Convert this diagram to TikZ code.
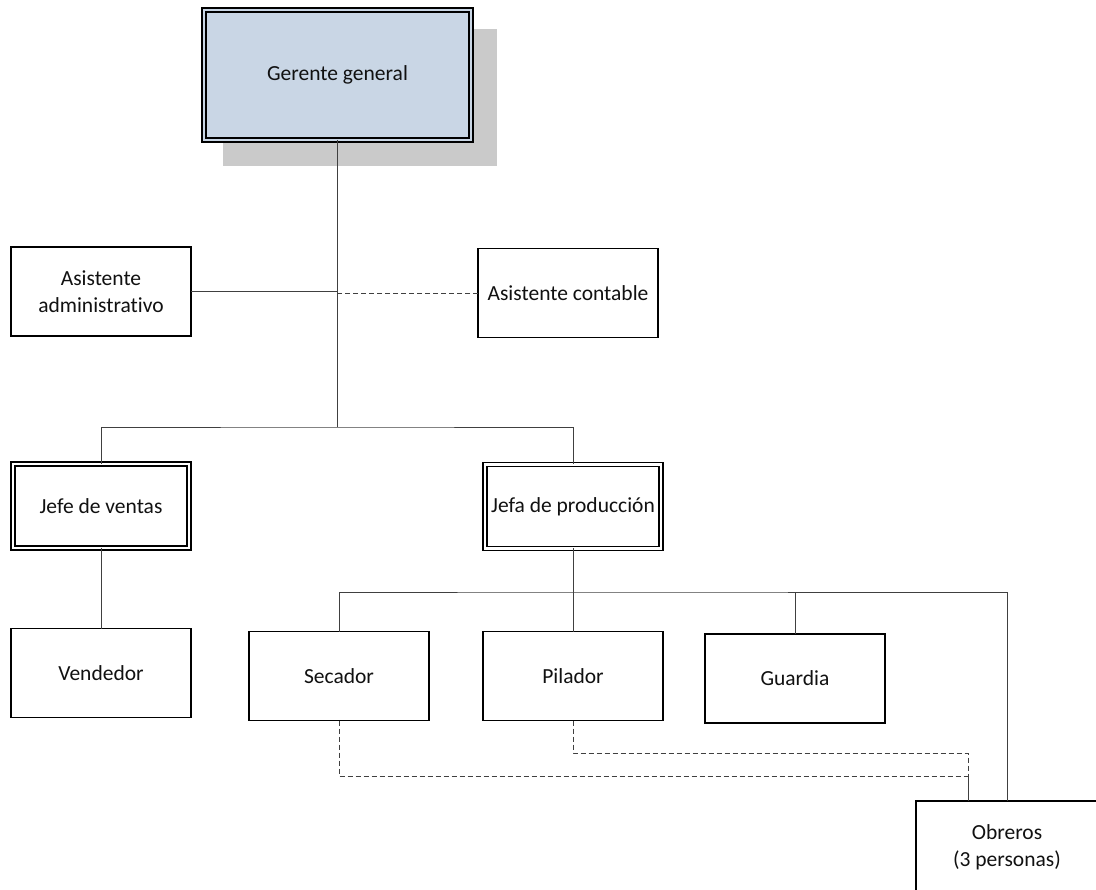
\documentclass[tikz,border=0pt]{standalone}
\usepackage{fontspec}
\setmainfont[Ligatures=NoCommon]{Carlito}
\usepackage{xcolor}
\usepackage{tikz}
\usetikzlibrary{positioning}
\definecolor{gerfill}{HTML}{C9D6E5}
\definecolor{sombra}{HTML}{CACACA}
\definecolor{linea}{HTML}{404040}
\definecolor{texto}{HTML}{111111}
\tikzset{puesto/.style={rectangle,draw=black,line width=1.8pt,fill=white,text=texto,align=center,outer sep=0pt,minimum width=180pt,minimum height=89pt,inner sep=2pt,font=\fontsize{21.5}{27}\selectfont}}
\tikzset{jefe/.style={puesto,line width=1.6pt,double=white,double distance=2.4pt,minimum width=176pt,minimum height=84pt}}
\tikzset{conn/.style={draw=linea,line width=0.9pt}}
\tikzset{punteada/.style={draw=linea,line width=0.9pt,dash pattern=on 5pt off 3pt}}

\begin{document}
\begin{tikzpicture}[x=1pt,y=-1pt]
    \useasboundingbox (0,0) rectangle (1096,890);
    % sombra del gerente
    \fill[sombra] (223,29) rectangle (497,166);
    \node[jefe,fill=gerfill,double=gerfill,minimum width=267pt,minimum height=130pt] (gg) at (337.5,75) {Gerente general};

    \node[puesto] (aa) at (101,291.5) {Asistente\\administrativo};
    \node[puesto] (ac) at (568,293) {Asistente contable};
    \node[jefe] (jv) at (101,506) {Jefe de ventas};
    \node[jefe] (jp) at (573,506.5) {Jefa de producción};
    \node[puesto] (vd) at (101,673) {Vendedor};
    \node[puesto] (se) at (339,676) {Secador};
    \node[puesto] (pi) at (573,676) {Pilador};
    \node[puesto] (gu) at (795,678.5) {Guardia};
    \node[puesto,minimum width=182pt,minimum height=92pt] (ob) at (1007,847) {Obreros\\(3 personas)};

    \coordinate (bus1) at (337.5,427);
    \coordinate (bus2) at (573,592);
    \coordinate (obin) at (968,776);
    \coordinate (pibend) at (968,753);

    \draw [conn] (gg.south) to (bus1);
    \draw [conn] (aa.east) to (aa.east -| gg.south);
    \draw [punteada] (ac.west) to (ac.west -| gg.south);
    \draw [conn] (jv.north) |- (bus1) -| (jp.north);
    \draw [conn] (jv.south) to (vd.north);
    \draw [conn] (jp.south) to (pi.north);
    \draw [conn] (se.north) |- (bus2) -| (ob.north);
    \draw [conn] (gu.north) to (gu.north |- bus2);
    \draw [punteada] (se.south) |- (obin);
    \draw [punteada] (pi.south) |- (pibend) to (obin);
    \draw [conn] (obin) to (obin |- ob.north);
\end{tikzpicture}
\end{document}
